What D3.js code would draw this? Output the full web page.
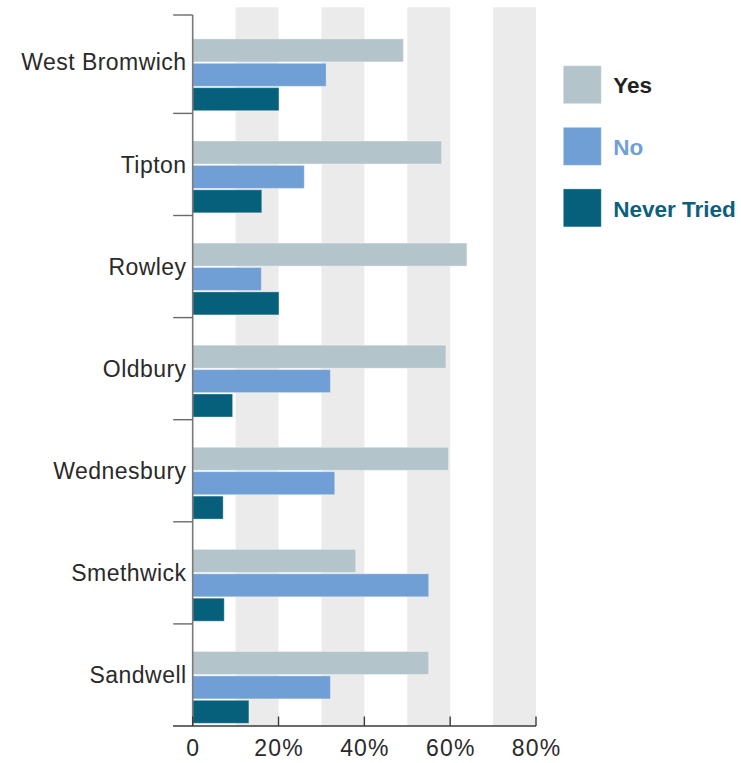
<!DOCTYPE html>
<html>
<head>
<meta charset="utf-8">
<script src="https://cdn.jsdelivr.net/npm/d3@7/dist/d3.min.js"></script>
<style>
  html, body { margin: 0; padding: 0; background: #fff; }
  svg { display: block; }
  text { font-family: "Liberation Sans", Arial, Helvetica, sans-serif; }
</style>
</head>
<body>
<svg id="chart" width="741" height="763"></svg>
<script>
const categories = ["West Bromwich", "Tipton", "Rowley", "Oldbury", "Wednesbury", "Smethwick", "Sandwell"];
const seriesNames = ["Yes", "No", "Never Tried"];
const yesValues   = [49.1, 58.0, 63.9, 59.0, 59.6, 38.0, 55.0];
const noValues    = [31.1, 26.0, 16.0, 32.1, 33.1, 55.0, 32.1];
const neverValues = [20.1, 16.1, 20.1, 9.3, 7.1, 7.35, 13.1];
const xTicks = [0, 20, 40, 60, 80];
const xTickLabels = ["0", "20%", "40%", "60%", "80%"];
const bandRanges = [[10, 20], [30, 40], [50, 60], [70, 80]];

const colors = ["#b4c4cb", "#6f9fd5", "#065f7b"];
const legendTextColors = ["#222222", "#6f9fd5", "#0b607d"];

const seriesValues = [yesValues, noValues, neverValues];
const data = categories.map((c, i) => ({
  category: c,
  values: seriesNames.map((s, j) => ({ series: s, value: seriesValues[j][i], idx: j }))
}));

const svg = d3.select("#chart");

const x = d3.scaleLinear().domain([0, 80]).range([192.7, 536]);
const y = d3.scaleBand().domain(categories).range([11.3, 726]).paddingInner(0).paddingOuter(0);
const step = y.step();
const ySub = d3.scaleBand().domain(seriesNames)
  .range([27.6, 99.4]).paddingInner(0.057).paddingOuter(0);

const plotTop = 7.3, plotBottom = 726;

// background bands
svg.append("g").selectAll("rect").data(bandRanges).join("rect")
  .attr("x", d => x(d[0]))
  .attr("width", d => x(d[1]) - x(d[0]))
  .attr("y", plotTop)
  .attr("height", plotBottom - plotTop)
  .attr("fill", "#ebebeb");

// bars
const groups = svg.append("g").selectAll("g").data(data).join("g")
  .attr("transform", d => `translate(0,${y(d.category)})`);
groups.selectAll("rect").data(d => d.values).join("rect")
  .attr("x", x(0))
  .attr("y", d => ySub(d.series))
  .attr("width", d => x(d.value) - x(0))
  .attr("height", ySub.bandwidth())
  .attr("fill", d => colors[d.idx])
  .attr("stroke", "rgba(255,255,255,0.35)")
  .attr("stroke-width", 1);

// y axis line
const axisTop = 15;
svg.append("line")
  .attr("x1", x(0)).attr("x2", x(0))
  .attr("y1", axisTop).attr("y2", plotBottom)
  .attr("stroke", "#7a7a7a").attr("stroke-width", 1.6);

// y ticks at category boundaries
const boundaries = categories.map(c => Math.max(axisTop, y(c)));
svg.append("g").selectAll("line").data(boundaries).join("line")
  .attr("x1", x(0) - 19.5).attr("x2", x(0))
  .attr("y1", d => d).attr("y2", d => d)
  .attr("stroke", "#6a6a6a").attr("stroke-width", 1.4);

// category labels
svg.append("g").selectAll("text").data(categories).join("text")
  .attr("x", 186.5)
  .attr("y", d => y(d) + step / 2)
  .attr("dy", "0.35em")
  .attr("text-anchor", "end")
  .attr("font-size", 23)
  .attr("letter-spacing", "0.45px")
  .attr("fill", "#2a2a2a")
  .text(d => d);

// x axis
svg.append("line")
  .attr("x1", 173).attr("x2", x(80))
  .attr("y1", plotBottom).attr("y2", plotBottom)
  .attr("stroke", "#3a3a3a").attr("stroke-width", 1.4);
svg.append("g").selectAll("line").data(xTicks).join("line")
  .attr("x1", d => x(d)).attr("x2", d => x(d))
  .attr("y1", plotBottom).attr("y2", plotBottom - 9.5)
  .attr("stroke", "#3a3a3a").attr("stroke-width", 1.4);
svg.append("g").selectAll("text").data(xTicks).join("text")
  .attr("x", d => x(d) + 0.6)
  .attr("y", 755.5)
  .attr("text-anchor", "middle")
  .attr("font-size", 23)
  .attr("letter-spacing", "1.2px")
  .attr("fill", "#2a2a2a")
  .text((d, i) => xTickLabels[i]);

// legend
const legend = svg.append("g").selectAll("g").data(seriesNames).join("g")
  .attr("transform", (d, i) => `translate(563.3,${65.7 + i * 61.6})`);
legend.append("rect")
  .attr("width", 38).attr("height", 38)
  .attr("fill", (d, i) => colors[i])
  .attr("stroke", "rgba(255,255,255,0.35)");
legend.append("text")
  .attr("x", 50).attr("y", 27.8)
  .attr("font-size", 22.5)
  .attr("font-weight", "bold")
  .attr("fill", (d, i) => legendTextColors[i])
  .text(d => d);
</script>
</body>
</html>
